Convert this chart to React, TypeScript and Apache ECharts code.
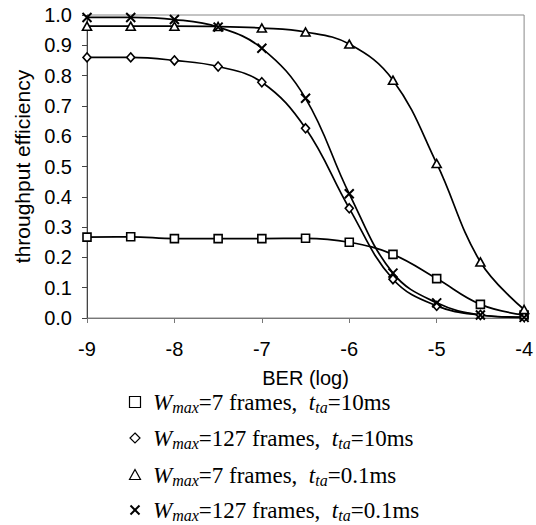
import React, { useEffect, useRef } from "react";
import * as echarts from "echarts";

const berTicks = [-9, -8.5, -8, -7.5, -7, -6.5, -6, -5.5, -5, -4.5, -4];
const wmax7_tta10 = [0.267, 0.268, 0.262, 0.262, 0.262, 0.263, 0.25, 0.21, 0.13, 0.045, 0.01];
const wmax127_tta10 = [0.86, 0.86, 0.85, 0.83, 0.778, 0.626, 0.362, 0.128, 0.04, 0.01, 0.003];
const wmax7_tta01 = [0.963, 0.963, 0.963, 0.962, 0.957, 0.944, 0.904, 0.785, 0.51, 0.185, 0.028];
const wmax127_tta01 = [0.992, 0.992, 0.985, 0.96, 0.89, 0.725, 0.41, 0.148, 0.05, 0.01, 0.002];

const legendItems = [
  { sym: "square", wmax: "7", tta: "10ms" },
  { sym: "diamond", wmax: "127", tta: "10ms" },
  { sym: "triangle", wmax: "7", tta: "0.1ms" },
  { sym: "cross", wmax: "127", tta: "0.1ms" },
];

const X_PATH = "path://M0,0L10,10M10,0L0,10";

export default function App() {
  const ref = useRef<HTMLDivElement>(null);
  useEffect(() => {
    document.body.style.margin = "0";
    if (!ref.current) return;
    const chart = echarts.init(ref.current, null, { renderer: "svg" });
    const mk = (d: number[]) => berTicks.map((x, i) => [x, d[i]]);
    const lineStyle = { color: "#000", width: 1.7 };
    const baseSeries = {
      type: "line" as const,
      smooth: 0.4,
      lineStyle,
      itemStyle: { color: "#fff", borderColor: "#000", borderWidth: 1.6 },
      z: 3,
    };
    const legendY = [402, 438, 475, 510];
    const sx = 135;
    const graphics: any[] = [];
    legendItems.forEach((it, i) => {
      const y = legendY[i];
      if (it.sym === "square") {
        graphics.push({ type: "rect", shape: { x: sx - 5.5, y: y - 5.5, width: 11, height: 11 }, style: { fill: "#fff", stroke: "#000", lineWidth: 1.2 } });
      } else if (it.sym === "diamond") {
        graphics.push({ type: "polygon", shape: { points: [[sx, y - 5], [sx + 5, y], [sx, y + 5], [sx - 5, y]] }, style: { fill: "#fff", stroke: "#000", lineWidth: 1.2 } });
      } else if (it.sym === "triangle") {
        graphics.push({ type: "polygon", shape: { points: [[sx, y - 5.5], [sx + 5.5, y + 4.5], [sx - 5.5, y + 4.5]] }, style: { fill: "#fff", stroke: "#000", lineWidth: 1.2 } });
      } else {
        graphics.push({ type: "line", shape: { x1: sx - 4.5, y1: y - 4.5, x2: sx + 4.5, y2: y + 4.5 }, style: { stroke: "#000", lineWidth: 2 } });
        graphics.push({ type: "line", shape: { x1: sx + 4.5, y1: y - 4.5, x2: sx - 4.5, y2: y + 4.5 }, style: { stroke: "#000", lineWidth: 2 } });
      }
      graphics.push({
        type: "text",
        x: 153,
        y,
        style: {
          text: `{w|W}{s|max}{n|=${it.wmax} frames,  }{w|t}{s|ta}{n|=${it.tta}}`,
          verticalAlign: "middle",
          fill: "#000",
          rich: {
            w: { fontFamily: "Liberation Serif", fontStyle: "italic", fontSize: 23, lineHeight: 26 },
            s: { fontFamily: "Liberation Serif", fontStyle: "italic", fontSize: 16, lineHeight: 13, verticalAlign: "bottom" },
            n: { fontFamily: "Liberation Serif", fontSize: 23, lineHeight: 26 },
          },
        },
      });
    });

    chart.setOption({
      animation: false,
      backgroundColor: "#fff",
      grid: {
        left: 87,
        top: 15,
        width: 440,
        height: 303,
        show: true,
        borderColor: "#888",
        borderWidth: 1,
        backgroundColor: "transparent",
      },
      xAxis: {
        type: "value",
        min: -9,
        max: -4,
        interval: 1,
        name: "BER (log)",
        nameLocation: "middle",
        nameGap: 50,
        nameTextStyle: { fontFamily: "Liberation Sans", fontSize: 20, color: "#000" },
        axisLine: { show: true, lineStyle: { color: "#777", width: 1 } },
        axisTick: { show: true, inside: false, length: 5, lineStyle: { color: "#777" } },
        axisLabel: { fontFamily: "Liberation Sans", fontSize: 20, color: "#000", margin: 21 },
        splitLine: { show: false },
      },
      yAxis: {
        type: "value",
        min: 0,
        max: 1,
        interval: 0.1,
        name: "throughput efficiency",
        nameLocation: "middle",
        nameGap: 54,
        nameTextStyle: { fontFamily: "Liberation Sans", fontSize: 21, color: "#000" },
        axisLine: { show: true, lineStyle: { color: "#444", width: 1 } },
        axisTick: { show: true, inside: false, length: 5, lineStyle: { color: "#444" } },
        axisLabel: {
          fontFamily: "Liberation Sans",
          fontSize: 20,
          color: "#000",
          margin: 15,
          formatter: (v: number) => v.toFixed(1),
        },
        splitLine: { show: false },
      },
      series: [
        { ...baseSeries, name: "sq", data: mk(wmax7_tta10), symbol: "rect", symbolSize: 8 },
        { ...baseSeries, name: "di", data: mk(wmax127_tta10), symbol: "diamond", symbolSize: [8, 9] },
        { ...baseSeries, name: "tr", data: mk(wmax7_tta01), symbol: "triangle", symbolSize: [9, 8] },
        {
          ...baseSeries,
          name: "x",
          data: mk(wmax127_tta01),
          symbol: X_PATH,
          symbolSize: 9,
          itemStyle: { color: "#fff", borderColor: "#000", borderWidth: 2 },
        },
      ],
      graphic: graphics,
    });
    return () => chart.dispose();
  }, []);
  return <div ref={ref} style={{ width: 536, height: 525 }} />;
}
